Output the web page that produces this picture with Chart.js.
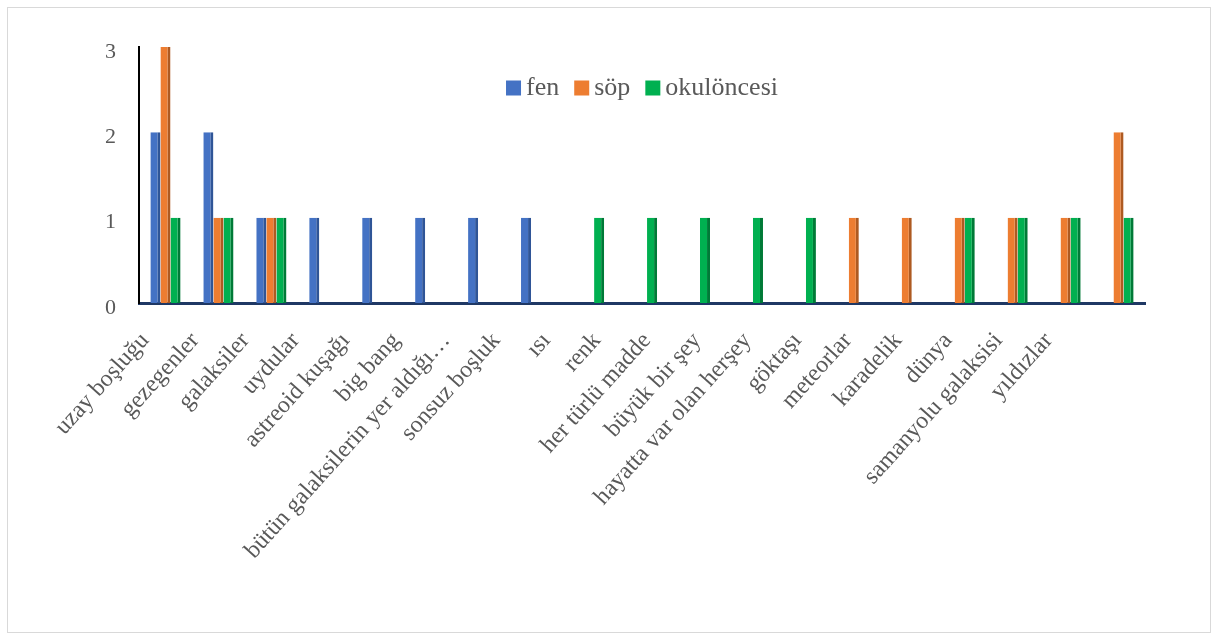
<!DOCTYPE html>
<html lang="tr">
<head>
  <meta charset="UTF-8" />
  <title>Grafik</title>
  <script src="https://cdn.jsdelivr.net/npm/chart.js"></script>
  <style>
    body { margin: 0; background: #fff; }
    .frame { position: absolute; left: 7px; top: 7px; width: 1202px; height: 624px; border: 1px solid #d9d9d9; }
    #wrap { position: absolute; left: 0; top: 0; width: 1217px; height: 639px; }
  </style>
</head>
<body>
  <div class="frame"></div>
  <div id="wrap"><canvas id="chart"></canvas></div>

  <script>
    // veriler
    const categories = ['uzay boşluğu', 'gezegenler', 'galaksiler', 'uydular', 'astreoid kuşağı', 'big bang',
      'bütün galaksilerin yer aldığı…', 'sonsuz boşluk', 'ısı', 'renk', 'her türlü madde', 'büyük bir şey',
      'hayatta var olan herşey', 'göktaşı', 'meteorlar', 'karadelik', 'dünya', 'samanyolu galaksisi', 'yıldızlar'];
    const fen        = [2, 2, 1, 1, 1, 1, 1, 1, 0, 0, 0, 0, 0, 0, 0, 0, 0, 0, 0];
    const sop        = [3, 1, 1, 0, 0, 0, 0, 0, 0, 0, 0, 0, 0, 1, 1, 1, 1, 1, 2];
    const okuloncesi = [1, 1, 1, 0, 0, 0, 0, 0, 1, 1, 1, 1, 1, 0, 0, 1, 1, 1, 1];

    const serif = "'Liberation Serif', serif";
    const side = { left: 0, top: 0, right: 3, bottom: 0 };

    // legend yatay, çizim alanının içinde ortalı
    const innerLegend = {
      id: 'innerLegend',
      afterDraw(chart) {
        const ctx = chart.ctx;
        const area = chart.chartArea;
        const box = 15, gap = 5, space = 15;
        ctx.save();
        ctx.font = "26px 'Liberation Serif', serif";
        const items = chart.data.datasets.map(ds => ({ text: ds.label, color: ds.backgroundColor, w: ctx.measureText(ds.label).width }));
        const total = items.reduce((a, it) => a + box + gap + it.w, 0) + space * (items.length - 1);
        let x = (area.left + area.right) / 2 - total / 2;
        const y = area.top + 41;
        ctx.textBaseline = 'middle';
        items.forEach(it => {
          ctx.fillStyle = it.color;
          ctx.fillRect(x, y - box / 2, box, box);
          ctx.fillStyle = '#595959';
          ctx.fillText(it.text, x + box + gap, y);
          x += box + gap + it.w + space;
        });
        ctx.restore();
      }
    };

    new Chart(document.getElementById('chart'), {
      type: 'bar',
      data: {
        labels: categories,
        datasets: [
          { label: 'fen', data: fen, backgroundColor: '#4472C4', borderColor: '#2F5597', borderWidth: side, borderSkipped: false },
          { label: 'söp', data: sop, backgroundColor: '#ED7D31', borderColor: '#AE5A21', borderWidth: side, borderSkipped: false },
          { label: 'okulöncesi', data: okuloncesi, backgroundColor: '#00B050', borderColor: '#007A37', borderWidth: side, borderSkipped: false }
        ]
      },
      plugins: [innerLegend],
      options: {
        responsive: true,
        maintainAspectRatio: false,
        animation: false,
        categoryPercentage: 0.57,
        barPercentage: 1.0,
        layout: { padding: { left: 0, right: 72, top: 47, bottom: 0 } },
        plugins: {
          tooltip: { enabled: false },
          legend: { display: false }
        },
        scales: {
          x: {
            weight: 0,
            grid: { display: false },
            border: { display: true, color: '#1F3864', width: 3 },
            ticks: { display: false },
            afterFit: s => { s.height = 0; }
          },
          // kategori adları (3B görünümdeki biraz daha sık aralıkla)
          xl: {
            type: 'linear',
            axis: 'x',
            position: 'bottom',
            weight: 1,
            offset: false,
            min: -0.12,
            max: 19.92,
            grid: { display: false },
            border: { display: false },
            afterBuildTicks: s => { s.ticks = categories.map((c, i) => ({ value: i })); },
            ticks: {
              color: '#595959',
              font: { family: serif, size: 24 },
              maxRotation: 48, minRotation: 48,
              autoSkip: false,
              padding: 16,
              callback: v => categories[v]
            },
            afterFit: s => { s.height = 336; }
          },
          y: {
            min: 0, max: 3,
            grid: { display: false },
            border: { display: true, color: '#000', width: 2 },
            ticks: {
              stepSize: 1,
              color: '#595959',
              font: { family: serif, size: 22 },
              padding: 15,
              labelOffset: 5
            },
            afterFit: s => { s.width = 139; }
          }
        }
      }
    });
  </script>
</body>
</html>
